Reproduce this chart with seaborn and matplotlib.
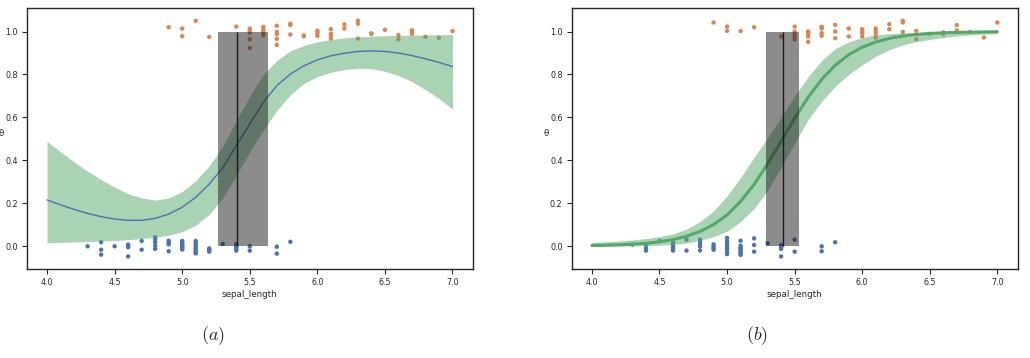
import numpy as np
import pandas as pd
import seaborn as sns
import matplotlib.pyplot as plt

# --- jittered observations (setosa = 0, versicolor = 1), panel (a)
xa0 = [4.3, 4.4, 4.4, 4.4, 4.5, 4.6, 4.6, 4.6, 4.6, 4.7, 4.7,
       4.8, 4.8, 4.8, 4.8, 4.8, 4.9, 4.9, 4.9, 4.9,
       5.0, 5.0, 5.0, 5.0, 5.0, 5.0, 5.0, 5.0,
       5.1, 5.1, 5.1, 5.1, 5.1, 5.1, 5.1, 5.1,
       5.2, 5.2, 5.2, 5.3, 5.4, 5.4, 5.4, 5.4, 5.4, 5.5, 5.5, 5.7, 5.7, 5.8]
ya0 = [0.0, 0.019, -0.016, -0.039, 0.0, 0.008, 0.002, -0.004, -0.047, 0.025, -0.016,
       0.042, 0.031, 0.019, 0.003, -0.012, 0.026, 0.018, 0.009, -0.023,
       0.025, 0.018, 0.012, 0.005, 0.0, -0.005, -0.01, -0.015,
       0.025, 0.015, 0.005, -0.005, -0.012, -0.02, -0.028, -0.033,
       -0.01, -0.018, -0.025, 0.011, 0.01, 0.002, -0.005, -0.012, -0.02, 0.0, -0.02, -0.002, -0.034, 0.021]
xa1 = [4.9, 5.0, 5.0, 5.1, 5.2, 5.4, 5.5, 5.5, 5.5, 5.5, 5.5,
       5.6, 5.6, 5.6, 5.6, 5.6, 5.7, 5.7, 5.7, 5.7, 5.7,
       5.8, 5.8, 5.8, 5.9, 5.9, 6.0, 6.0, 6.0, 6.0, 6.1, 6.1, 6.1, 6.1,
       6.2, 6.2, 6.3, 6.3, 6.3, 6.4, 6.4, 6.5, 6.6, 6.6, 6.7, 6.7, 6.7, 6.8, 6.9, 7.0]
ya1 = [1.02, 1.014, 0.978, 1.05, 0.975, 1.023, 1.014, 1.005, 0.995, 0.964, 0.923,
       1.022, 1.011, 1.002, 0.992, 0.983, 1.027, 0.998, 0.988, 0.966, 0.938,
       1.036, 1.03, 0.986, 0.982, 0.978, 1.004, 1.0, 0.992, 0.98, 1.011, 0.989, 0.98, 0.967,
       1.033, 1.014, 1.05, 1.036, 0.967, 0.992, 0.988, 1.008, 0.983, 0.964, 1.006, 0.998, 0.989, 0.975, 0.971, 1.002]

# --- panel (b)
yb0 = [0.008, 0.008, -0.008, -0.02, 0.025, 0.016, 0.003, -0.008, -0.02, 0.031, -0.02,
       0.031, 0.022, 0.011, 0.0, -0.019, 0.009, 0.0, -0.009, -0.016,
       0.039, 0.026, 0.016, 0.006, -0.003, -0.012, -0.025, -0.036,
       0.026, 0.003, -0.006, -0.016, -0.025, -0.034, -0.04, -0.009,
       0.037, 0.006, -0.025, 0.014, 0.006, 0.0, -0.006, -0.012, -0.047, 0.031, -0.025, 0.0, -0.023, 0.019]
yb1 = [1.042, 1.023, 1.003, 1.002, 1.02, 0.977, 1.023, 1.0, 0.989, 0.977, 0.964,
       1.0, 0.994, 0.989, 0.977, 0.952, 1.022, 1.018, 1.014, 0.992, 0.98,
       1.031, 1.0, 0.969, 1.014, 0.977, 1.011, 1.0, 0.992, 0.977, 1.014, 1.0, 0.988, 0.972,
       1.034, 1.011, 1.05, 1.042, 0.998, 1.003, 0.964, 0.989, 0.988, 0.996, 1.03, 0.998, 1.005, 0.998, 0.972, 1.042]

# --- fitted curves
grid = [4.0, 4.1, 4.2, 4.3, 4.4, 4.5, 4.6, 4.7, 4.8, 4.9, 5.0, 5.1, 5.2, 5.3, 5.4, 5.5,
        5.6, 5.7, 5.8, 5.9, 6.0, 6.1, 6.2, 6.3, 6.4, 6.5, 6.6, 6.7, 6.8, 6.9, 7.0]
theta_a = [0.216, 0.193, 0.172, 0.153, 0.138, 0.127, 0.121, 0.121, 0.130, 0.150, 0.182,
           0.228, 0.290, 0.365, 0.468, 0.570, 0.670, 0.748, 0.802, 0.840, 0.868,
           0.887, 0.899, 0.907, 0.910, 0.907, 0.900, 0.888, 0.873, 0.856, 0.837]
low_a = [0.016, 0.018, 0.020, 0.022, 0.024, 0.027, 0.031, 0.036, 0.043, 0.052, 0.068,
         0.098, 0.148, 0.225, 0.330, 0.440, 0.540, 0.632, 0.705, 0.758, 0.790,
         0.810, 0.823, 0.829, 0.827, 0.815, 0.795, 0.767, 0.729, 0.688, 0.639]
high_a = [0.488, 0.440, 0.393, 0.350, 0.310, 0.275, 0.245, 0.225, 0.215, 0.225, 0.255,
          0.305, 0.375, 0.465, 0.585, 0.700, 0.800, 0.865, 0.910, 0.935, 0.952,
          0.963, 0.970, 0.975, 0.978, 0.980, 0.982, 0.983, 0.984, 0.985, 0.986]
theta_b = [0.004, 0.005, 0.007, 0.010, 0.014, 0.021, 0.031, 0.047, 0.069, 0.101, 0.146,
           0.209, 0.288, 0.384, 0.489, 0.596, 0.694, 0.777, 0.843, 0.892, 0.927,
           0.951, 0.968, 0.979, 0.986, 0.991, 0.994, 0.996, 0.997, 0.998, 0.999]
low_b = [0.0, 0.0005, 0.001, 0.002, 0.003, 0.005, 0.008, 0.015, 0.028, 0.045, 0.070,
         0.115, 0.175, 0.260, 0.370, 0.480, 0.590, 0.675, 0.745, 0.800, 0.845,
         0.885, 0.915, 0.937, 0.952, 0.963, 0.972, 0.979, 0.984, 0.988, 0.991]
high_b = [0.018, 0.021, 0.025, 0.030, 0.036, 0.045, 0.058, 0.080, 0.115, 0.165, 0.235,
          0.320, 0.415, 0.505, 0.600, 0.700, 0.790, 0.865, 0.920, 0.952, 0.972,
          0.984, 0.990, 0.993, 0.996, 0.997, 0.998, 0.999, 0.999, 1.0, 1.0]

# decision boundary: mean and HPD interval
bd_a, bd_hpd_a = 5.407, (5.264, 5.635)
bd_b, bd_hpd_b = 5.417, (5.287, 5.533)

sns.set_theme(style="ticks")
plt.rcParams['font.family'] = ['DejaVu Sans']
plt.rcParams['mathtext.fontset'] = 'cm'
pal = sns.color_palette("deep")

fig = plt.figure(figsize=(10.3, 3.58), dpi=100)
ax_a = fig.add_axes([0.026, 0.249, 0.433, 0.729])
ax_b = fig.add_axes([0.555, 0.249, 0.433, 0.729])

panels = [
    (ax_a, ya0, ya1, theta_a, low_a, high_a, bd_a, bd_hpd_a, pal[0], 1.0),
    (ax_b, yb0, yb1, theta_b, low_b, high_b, bd_b, bd_hpd_b, pal[2], 2.2),
]

for ax, y0, y1, theta, low, high, bd, bd_hpd, lc, lw in panels:
    pts = pd.DataFrame({
        "sepal_length": xa0 + xa1,
        "y": y0 + y1,
        "cls": [0] * len(xa0) + [1] * len(xa1),
    })
    sns.scatterplot(data=pts, x="sepal_length", y="y", hue="cls",
                    palette=[pal[0], pal[1]], s=10, linewidth=0,
                    legend=False, ax=ax, zorder=2)
    ax.fill_between(grid, low, high, color=pal[2], alpha=0.5, lw=0, zorder=3)
    sns.lineplot(x=grid, y=theta, color=lc, lw=lw, ax=ax, zorder=4)
    ax.vlines(bd, 0, 1, color='k', lw=1.0, zorder=5)
    ax.fill_betweenx([0, 1], bd_hpd[0], bd_hpd[1], color='k', alpha=0.5, lw=0, zorder=6)

    ax.set_xlim(3.85, 7.15)
    ax.set_ylim(-0.105, 1.11)
    ax.set_xticks([4.0, 4.5, 5.0, 5.5, 6.0, 6.5, 7.0])
    ax.set_yticks([0.0, 0.2, 0.4, 0.6, 0.8, 1.0])
    ax.set_xticklabels([f"{v:.1f}" for v in ax.get_xticks()])
    ax.set_yticklabels([f"{v:.1f}" for v in ax.get_yticks()])
    ax.tick_params(labelsize=5.8, length=3.5, width=0.8, pad=3)
    ax.set_xlabel("sepal_length", fontsize=6.3, labelpad=2)
    ax.set_ylabel("θ", rotation=0, fontsize=6.3, labelpad=3)
    for sp in ax.spines.values():
        sp.set_linewidth(1.0)
        sp.set_color('0.15')

fig.text(0.207, 0.05, r'$(a)$', fontsize=13, ha='center')
fig.text(0.735, 0.05, r'$(b)$', fontsize=13, ha='center')

plt.savefig("out.png", dpi=100)
plt.close()
